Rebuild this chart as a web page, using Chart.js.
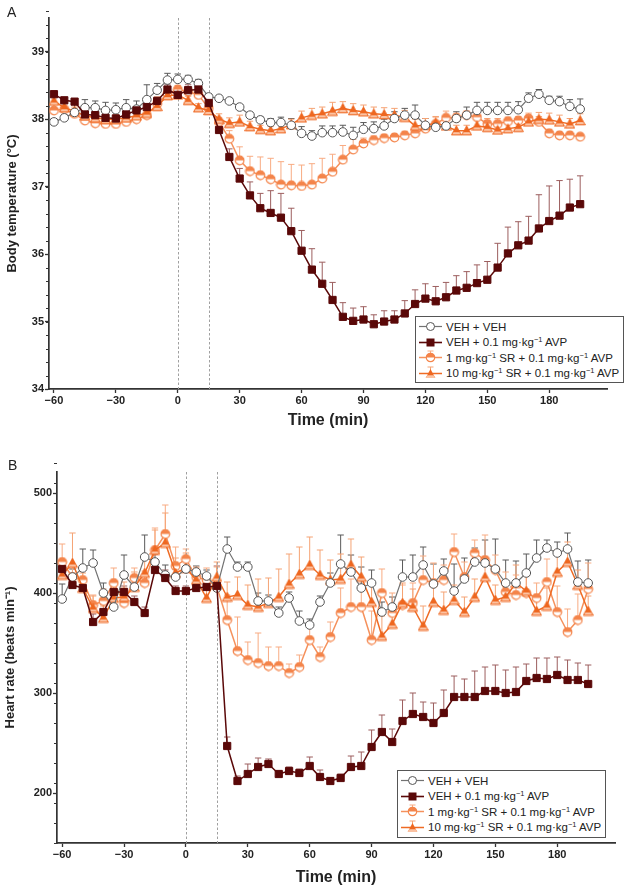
<!DOCTYPE html>
<html><head><meta charset="utf-8">
<script src="https://cdn.jsdelivr.net/npm/chart.js@4.4.1/dist/chart.umd.min.js"></script>
<style>
html,body{margin:0;padding:0;background:#fff;width:629px;height:889px;overflow:hidden;font-family:"Liberation Sans",Arial,Helvetica,sans-serif;}
#wa{position:absolute;left:0;top:0;width:629px;height:440px;}
#wb{position:absolute;left:0;top:440px;width:629px;height:449px;}
.panel{position:absolute;font-size:14px;line-height:14px;color:#222;}
.legend{position:absolute;border:1px solid #555;background:#fff;font-size:11.5px;color:#222;box-sizing:border-box;padding-top:2px;padding-left:2px;}
.row{display:flex;align-items:center;height:15.5px;white-space:nowrap;}
.row svg{margin-right:3px;flex:none;}
sup{font-size:7.5px;line-height:0;vertical-align:4px;}
</style></head>
<body>
<div id="wa"><canvas id="ca" width="629" height="440"></canvas></div>
<div id="wb"><canvas id="cb" width="629" height="449"></canvas></div>
<div class="panel" style="left:7px;top:5px;">A</div>
<div class="panel" style="left:8px;top:458px;">B</div>
<div class="legend" id="legA" style="left:415px;top:316px;width:209px;height:67px;"></div>
<div class="legend" id="legB" style="left:397px;top:770px;width:209px;height:68px;"></div>
<script>
// ---------- data ----------
const times = [-60,-55,-50,-45,-40,-35,-30,-25,-20,-15,-10,-5,0,5,10,15,20,25,30,35,40,45,50,55,60,65,70,75,80,85,90,95,100,105,110,115,120,125,130,135,140,145,150,155,160,165,170,175,180,185,190,195];
const seriesNames = ["VEH + VEH","VEH + 0.1 mg·kg<sup>−1</sup> AVP","1 mg·kg<sup>−1</sup> SR + 0.1 mg·kg<sup>−1</sup> AVP","10 mg·kg<sup>−1</sup> SR + 0.1 mg·kg<sup>−1</sup> AVP"];
const seriesLabels = ["VEH + VEH","VEH + 0.1 mg·kg−1 AVP","1 mg·kg−1 SR + 0.1 mg·kg−1 AVP","10 mg·kg−1 SR + 0.1 mg·kg−1 AVP"];
const xTickValues = [-60,-30,0,30,60,90,120,150,180];
const xTickLabels = ["−60","−30","0","30","60","90","120","150","180"];
const yTicksA = [34,35,36,37,38,39];
const yTicksB = [200,300,400,500];
const markerLines = [0,15];

// Panel A: body temperature (°C)
const tempVehVeh = [37.96,38.02,38.10,38.17,38.17,38.13,38.14,38.17,38.15,38.29, 38.43,38.58,38.59,38.59,38.53,38.33,38.31,38.27,38.18,38.06, 37.99,37.95,37.95,37.91,37.79,37.75,37.80,37.80,37.81,37.76, 37.85,37.86,37.90,38.01,38.06,38.06,37.91,37.88,37.90,38.01, 38.06,38.13,38.13,38.13,38.13,38.14,38.31,38.37,38.28,38.26, 38.19,38.15];
const tempVehVehErr = [0.05,0.05,0.12,0.12,0.1,0.12,0.1,0.12,0.12,0.22, 0.1,0.1,0.08,0.06,0.06,0.05,0.04,0.04,0.04,0.04, 0.05,0.06,0.08,0.1,0.1,0.08,0.1,0.1,0.1,0.12, 0.1,0.1,0.1,0.1,0.1,0.15,0.1,0.08,0.08,0.1, 0.12,0.12,0.12,0.12,0.12,0.12,0.08,0.07,0.06,0.08, 0.1,0.15];
const tempVehAvp = [38.37,38.28,38.26,38.07,38.06,38.02,38.01,38.07,38.13,38.18, 38.27,38.44,38.36,38.43,38.44,38.24,37.84,37.44,37.12,36.87, 36.68,36.61,36.54,36.34,36.05,35.77,35.56,35.32,35.07,35.01, 35.03,34.96,35.00,35.03,35.12,35.26,35.34,35.30,35.36,35.46, 35.50,35.57,35.62,35.80,36.01,36.13,36.20,36.38,36.49,36.57, 36.69,36.74];
const tempVehAvpErr = [0.05,0.04,0.04,0.1,0.08,0.06,0.06,0.06,0.06,0.08, 0.06,0.08,0.08,0.08,0.08,0.1,0.08,0.12,0.15,0.2, 0.22,0.33,0.36,0.34,0.30,0.31,0.32,0.26,0.21,0.19, 0.19,0.14,0.16,0.13,0.19,0.21,0.22,0.22,0.22,0.22, 0.24,0.27,0.27,0.36,0.39,0.35,0.36,0.50,0.52,0.52, 0.42,0.42];
const tempSr1 = [38.13,38.15,38.08,37.98,37.94,37.93,37.93,37.96,38.00,38.06, 38.23,38.38,38.44,38.41,38.36,38.16,37.96,37.71,37.39,37.23, 37.17,37.11,37.03,37.02,37.01,37.03,37.12,37.22,37.40,37.55, 37.64,37.69,37.72,37.73,37.76,37.79,37.86,37.93,38.02,38.02, 38.06,38.03,37.93,37.93,37.97,37.98,38.01,37.96,37.79,37.76, 37.76,37.74];
const tempSr1Err = [0.1,0.12,0.08,0.06,0.06,0.06,0.06,0.06,0.08,0.06, 0.1,0.08,0.06,0.06,0.08,0.06,0.06,0.12,0.2,0.22, 0.27,0.31,0.34,0.31,0.31,0.31,0.30,0.26,0.21,0.15, 0.08,0.06,0.05,0.05,0.06,0.06,0.08,0.1,0.1,0.06, 0.06,0.06,0.08,0.08,0.06,0.06,0.08,0.08,0.06,0.05, 0.05,0.05];
const tempSr10 = [38.27,38.17,38.12,38.05,38.02,38.00,38.00,38.02,38.05,38.09, 38.19,38.35,38.36,38.28,38.17,38.13,38.00,37.94,37.96,37.89, 37.85,37.83,37.86,37.92,38.02,38.06,38.08,38.12,38.16,38.13, 38.11,38.08,38.07,38.06,38.03,37.90,37.91,37.94,37.90,37.83, 37.83,37.90,37.88,37.84,37.86,37.88,37.96,38.00,37.99,37.96, 37.93,37.98];
const tempSr10Err = [0.08,0.08,0.06,0.06,0.06,0.06,0.06,0.06,0.06,0.06, 0.08,0.06,0.06,0.06,0.06,0.06,0.08,0.08,0.1,0.08, 0.06,0.06,0.08,0.08,0.1,0.1,0.1,0.13,0.1,0.1, 0.1,0.1,0.1,0.1,0.1,0.1,0.1,0.1,0.1,0.08, 0.08,0.1,0.1,0.1,0.1,0.1,0.1,0.1,0.1,0.1, 0.08,0.1];

// Panel B: heart rate (beats/min)
const hrVehVeh = [394,416,425,430,400,386,418,406,436,431, 418,416,424,421,417,405,444,426,426,392, 392,380,395,372,368,391,410,429,421,405, 410,381,386,416,416,428,409,422,402,414, 431,430,424,410,410,420,435,445,440,444, 411,410];
const hrVehVehErr = [15,8,19,13,10,12,20,10,22,8, 10,8,10,6,6,8,12,5,5,8, 6,6,6,10,6,6,10,29,17,21, 13,10,10,17,22,18,20,12,27,21, 14,23,30,23,22,19,18,8,11,16, 21,23];
const hrVehAvp = [424,408,405,371,381,401,401,391,380,423, 415,402,402,405,406,407,247,212,219,226, 229,219,222,220,227,216,212,215,226,227, 246,261,251,272,279,276,270,280,296,296, 296,302,302,300,301,312,315,314,318,313, 313,309];
const hrVehAvpErr = [8,6,6,8,8,6,6,6,6,6, 8,5,5,5,5,20,9,5,10,9, 5,3,4,4,9,7,3,4,11,14, 17,17,13,21,21,15,20,23,21,18, 26,24,26,23,25,17,20,21,18,20, 17,19];
const hrSr1 = [431,416,413,388,392,410,390,415,410,443, 459,427,434,416,413,406,373,342,333,330, 327,327,320,326,353,336,356,380,386,386, 353,400,380,388,390,413,410,413,441,416, 440,433,423,401,398,400,395,411,381,361, 373,404];
const hrSr1Err = [18,10,12,10,12,15,15,10,12,22, 29,19,10,10,12,20,25,34,18,30, 19,19,9,12,17,10,15,25,28,20, 29,24,20,20,20,24,20,15,18,15, 13,25,15,20,20,18,15,23,26,23, 26,26];
const hrSr10 = [418,430,405,385,375,395,396,406,420,443, 450,420,425,413,395,416,396,398,388,386, 390,396,409,419,428,418,413,414,428,416, 391,357,369,390,386,367,391,383,393,381, 396,416,393,396,410,402,382,387,421,431, 408,382];
const hrSr10Err = [12,30,15,12,12,15,15,15,15,20, 30,15,15,12,12,15,15,18,20,28, 25,28,30,27,28,25,20,25,26,20, 18,20,20,20,18,20,15,18,15,15, 18,20,15,15,18,15,15,18,22,20, 15,15];

// ---------- styling ----------
const FONT = "'Liberation Sans', Arial, Helvetica, sans-serif";
Chart.defaults.font.family = FONT;
const C = {
  vehLine:'#727272', vehPt:'#555555', vehErr:'#5a5a5a',
  avp:'#5a0808', avpErr:'#9c5e5e',
  sr1Line:'#f5915c', sr1:'#f4844a', sr1Err:'#f8ab82',
  sr10Line:'#ef6b24', sr10:'#ee6720', sr10Err:'#f5a374'
};

function halfCircle(color){
  const c=document.createElement('canvas'); c.width=11; c.height=11;
  const g=c.getContext('2d'); const r=4.3;
  g.beginPath(); g.arc(5.5,5.5,r,0,2*Math.PI); g.fillStyle='#fff'; g.fill();
  g.beginPath(); g.arc(5.5,5.5,r,Math.PI,2*Math.PI); g.closePath(); g.fillStyle=color; g.fill();
  g.beginPath(); g.arc(5.5,5.5,r,0,2*Math.PI); g.strokeStyle=color; g.lineWidth=1.2; g.stroke();
  return c;
}
function triangle(color){
  const c=document.createElement('canvas'); c.width=11; c.height=11;
  const g=c.getContext('2d');
  g.beginPath(); g.moveTo(5.5,0.8); g.lineTo(10.4,9.8); g.lineTo(0.6,9.8); g.closePath();
  g.fillStyle=color; g.fill();
  g.beginPath(); g.moveTo(2.2,7.0); g.lineTo(8.8,7.0); g.lineTo(10.4,9.8); g.lineTo(0.6,9.8); g.closePath();
  g.fillStyle='#fbc2a2'; g.fill();
  g.beginPath(); g.moveTo(5.5,0.8); g.lineTo(10.4,9.8); g.lineTo(0.6,9.8); g.closePath();
  g.strokeStyle=color; g.lineWidth=1; g.stroke();
  return c;
}
const halfPt = halfCircle(C.sr1);
const triPt = triangle(C.sr10);

function pts(vals){ return times.map((t,i)=>({x:t,y:vals[i]})); }

function makeDatasets(vv,vvE,va,vaE,s1,s1E,s10,s10E){
  return [
    {label:seriesLabels[0], data:pts(vv), errors:vvE, errColor:C.vehErr, borderColor:C.vehLine, borderWidth:1.2,
     pointStyle:'circle', pointRadius:4.3, pointBackgroundColor:'#fff', pointBorderColor:C.vehPt, pointBorderWidth:1, order:1},
    {label:seriesLabels[1], data:pts(va), errors:vaE, errColor:C.avpErr, borderColor:C.avp, borderWidth:1.5,
     pointStyle:'rect', pointRadius:5.1, pointBackgroundColor:C.avp, pointBorderColor:C.avp, pointBorderWidth:1, order:0},
    {label:seriesLabels[2], data:pts(s1), errors:s1E, errColor:C.sr1Err, borderColor:C.sr1Line, borderWidth:1.5,
     pointStyle:halfPt, order:3},
    {label:seriesLabels[3], data:pts(s10), errors:s10E, errColor:C.sr10Err, borderColor:C.sr10Line, borderWidth:1.5,
     pointStyle:triPt, order:2}
  ].map(d=>Object.assign({fill:false, tension:0, showLine:true}, d));
}

// ---------- plugins ----------
const errorBars = {
  id:'errorBars',
  beforeDatasetsDraw(chart){
    const {ctx, scales:{x,y}} = chart;
    chart.data.datasets.forEach((ds)=>{
      if(!ds.errors) return;
      ctx.save(); ctx.strokeStyle=ds.errColor; ctx.lineWidth=1;
      ds.data.forEach((p,j)=>{
        const px=x.getPixelForValue(p.x), py=y.getPixelForValue(p.y), pt=y.getPixelForValue(p.y+ds.errors[j]);
        ctx.beginPath(); ctx.moveTo(px,py); ctx.lineTo(px,pt);
        ctx.moveTo(px-3.2,pt); ctx.lineTo(px+3.2,pt); ctx.stroke();
      });
      ctx.restore();
    });
  }
};
const vLines = {
  id:'vLines',
  beforeDatasetsDraw(chart){
    const {ctx, chartArea:a, scales:{x}} = chart;
    ctx.save(); ctx.strokeStyle='#a0a0a0'; ctx.lineWidth=1; ctx.setLineDash([2.5,2]);
    markerLines.forEach(v=>{ const px=Math.round(x.getPixelForValue(v))+0.5;
      ctx.beginPath(); ctx.moveTo(px,a.top); ctx.lineTo(px,a.bottom); ctx.stroke(); });
    ctx.restore();
  }
};
const minorTicks = {
  id:'minorTicks',
  afterDraw(chart, args, opts){
    if(!opts || !opts.step) return;
    const {ctx, scales:{y}} = chart;
    const n = Math.round((y.max - y.min)/opts.step);
    ctx.save(); ctx.strokeStyle='#333'; ctx.lineWidth=1;
    for(let k=0;k<=n;k++){
      const v = y.min + k*opts.step;
      const py = Math.round(y.getPixelForValue(v))+0.5;
      ctx.beginPath(); ctx.moveTo(y.right-3, py); ctx.lineTo(y.right, py); ctx.stroke();
    }
    ctx.restore();
  }
};

function axisCommon(){
  return {
    grid:{display:true, drawOnChartArea:false, drawTicks:true, tickLength:4, tickColor:'#333', tickWidth:1.3},
    border:{display:true, color:'#333', width:1.7}
  };
}
const tickFont = {family:FONT, size:11, weight:'bold'};

function makeChart(id, cfg){
  const ax = axisCommon(), ay = axisCommon();
  return new Chart(document.getElementById(id), {
    type:'line',
    data:{datasets:cfg.datasets},
    plugins:[errorBars, vLines, minorTicks],
    options:{
      responsive:false, animation:false, devicePixelRatio:1,
      layout:{padding:cfg.padding},
      plugins:{legend:{display:false}, tooltip:{enabled:false}, minorTicks:{step:cfg.minor}},
      scales:{
        x:Object.assign(ax, {type:'linear', min:cfg.xmin, max:cfg.xmax,
          afterFit(s){ s.height = cfg.xh; },
          afterBuildTicks(s){ s.ticks = xTickValues.map(v=>({value:v})); },
          ticks:{autoSkip:false, maxRotation:0, font:tickFont, color:'#222', padding:1,
                 callback:(v,i)=> xTickLabels[i]},
          title:{display:true, text:'Time (min)', color:'#222', font:{family:FONT, size:16, weight:'bold'}, padding:{top:0,bottom:cfg.xtPad}}
        }),
        y:Object.assign(ay, {type:'linear', min:cfg.ymin, max:cfg.ymax,
          afterFit(s){ s.width = cfg.yw; },
          afterBuildTicks(s){ s.ticks = cfg.yticks.map(v=>({value:v})); },
          ticks:{autoSkip:false, font:tickFont, color:'#222', padding:1},
          title:{display:true, text:cfg.ytitle, color:'#222', font:{family:FONT, size:13, weight:'bold'}, padding:{top:cfg.ytPad,bottom:0}}
        })
      }
    }
  });
}

makeChart('ca', {
  datasets: makeDatasets(tempVehVeh,tempVehVehErr,tempVehAvp,tempVehAvpErr,tempSr1,tempSr1Err,tempSr10,tempSr10Err),
  padding:{left:0, top:18, right:22, bottom:0},
  xmin:-62.4, xmax:208, xh:51, xtPad:10,
  ymin:34, ymax:39.5, yw:49, yticks:yTicksA, minor:0.2,
  ytitle:'Body temperature (°C)', ytPad:4.5
});
makeChart('cb', {
  datasets: makeDatasets(hrVehVeh,hrVehVehErr,hrVehAvp,hrVehAvpErr,hrSr1,hrSr1Err,hrSr10,hrSr10Err),
  padding:{left:0, top:32, right:14, bottom:0},
  xmin:-62.5, xmax:208, xh:46, xtPad:1.5,
  ymin:150, ymax:521, yw:57, yticks:yTicksB, minor:20,
  ytitle:'Heart rate (beats min⁻¹)', ytPad:3
});

// ---------- legends ----------
function symbolSvg(i){
  const line = (col,w)=>`<line x1="1" y1="7.5" x2="24" y2="7.5" stroke="${col}" stroke-width="${w}"/>`;
  if(i===0) return `<svg width="25" height="15">${line(C.vehLine,1.2)}<circle cx="12.5" cy="7.5" r="4" fill="#fff" stroke="${C.vehPt}" stroke-width="1"/></svg>`;
  if(i===1) return `<svg width="25" height="15">${line(C.avp,1.6)}<rect x="8.5" y="3.5" width="8" height="8" fill="${C.avp}"/></svg>`;
  if(i===2) return `<svg width="25" height="15">${line(C.sr1Line,1.5)}<line x1="12.5" y1="1" x2="12.5" y2="7.5" stroke="${C.sr1Err}"/><line x1="9.5" y1="1" x2="15.5" y2="1" stroke="${C.sr1Err}"/><circle cx="12.5" cy="7.5" r="4.2" fill="#fff" stroke="${C.sr1}" stroke-width="1.2"/><path d="M8.3 7.5 A4.2 4.2 0 0 1 16.7 7.5 Z" fill="${C.sr1}"/></svg>`;
  return `<svg width="25" height="15">${line(C.sr10Line,1.5)}<line x1="12.5" y1="1" x2="12.5" y2="7" stroke="${C.sr10Err}"/><line x1="9.5" y1="1" x2="15.5" y2="1" stroke="${C.sr10Err}"/><path d="M12.5 3 L17.3 12 L7.7 12 Z" fill="${C.sr10}"/><path d="M9.3 9.3 L15.7 9.3 L17.3 12 L7.7 12 Z" fill="#fbc2a2"/></svg>`;
}
['legA','legB'].forEach(id=>{
  document.getElementById(id).innerHTML = seriesNames.map((n,i)=>`<div class="row">${symbolSvg(i)}<span>${n}</span></div>`).join('');
});
</script>
</body></html>
